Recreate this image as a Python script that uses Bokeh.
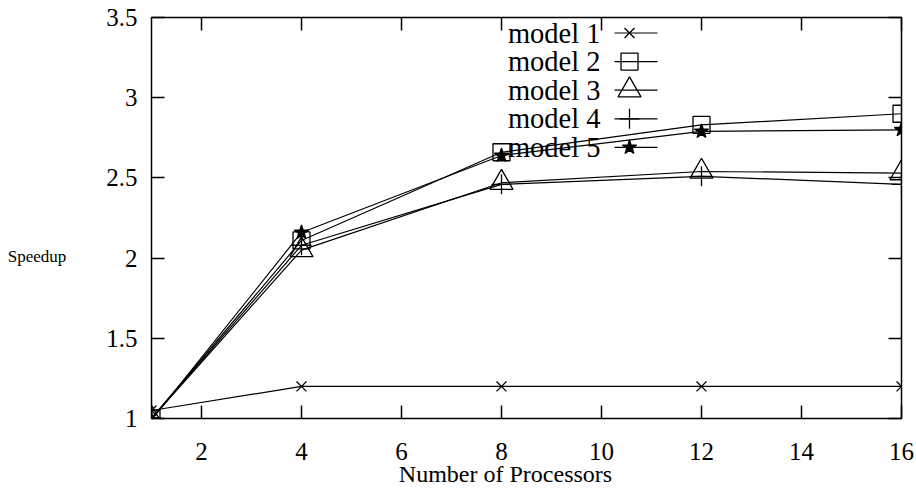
from bokeh.plotting import figure
from bokeh.models import Range1d, LinearAxis, FixedTicker, ColumnDataSource
from bokeh.core.properties import value
from bokeh.embed import file_html
from bokeh.resources import INLINE

# ---- data ----
processors = [1, 4, 8, 12, 16]
model1 = [1.05, 1.20, 1.20, 1.20, 1.20]
model2 = [1.00, 2.11, 2.66, 2.83, 2.90]
model3 = [1.00, 2.05, 2.47, 2.54, 2.53]
model4 = [1.00, 2.08, 2.46, 2.51, 2.46]
model5 = [0.99, 2.16, 2.64, 2.79, 2.80]
series_names = ["model 1", "model 2", "model 3", "model 4", "model 5"]
x_ticks = [2, 4, 6, 8, 10, 12, 14, 16]
y_ticks = [1, 1.5, 2, 2.5, 3, 3.5]
y_tick_labels = ["1", "1.5", "2", "2.5", "3", "3.5"]
x_title = "Number of Processors"
y_title = "Speedup"

# ---- styles ----
FONT = "Liberation Serif"
series_data = [model1, model2, model3, model4, model5]
markers = ["x", "square", "triangle", "cross", "star"]
msizes = [14, 17, 23, 20, 15]
mfills = [None, None, None, None, "black"]

FW, FH = 750, 401
p = figure(width=916, height=495, frame_width=FW, frame_height=FH,
           x_range=Range1d(1, 16), y_range=Range1d(1, 3.5),
           output_backend="svg", toolbar_location=None,
           min_border_left=151, min_border_right=15, min_border_top=17, min_border_bottom=77,
           background_fill_color="white", border_fill_color="white")
p.grid.visible = False
p.outline_line_color = "black"
p.outline_line_width = 1.5

yticker = FixedTicker(ticks=y_ticks)
xticker = FixedTicker(ticks=x_ticks)
overrides = {t: l for t, l in zip(y_ticks, y_tick_labels)}

def style_axis(ax, ticker):
    ax.ticker = ticker
    ax.axis_line_color = None
    ax.major_tick_in = 13
    ax.major_tick_out = 0
    ax.minor_tick_line_color = None
    ax.major_tick_line_color = "black"
    ax.major_tick_line_width = 1.5
    ax.major_label_text_font = FONT
    ax.major_label_text_font_size = "25px"
    ax.major_label_text_color = "black"

xa = p.xaxis[0]
style_axis(xa, xticker)
xa.major_label_standoff = 24
# non-breaking spaces shift the centred title left, as in the reference
xa.axis_label = x_title + "\u00a0" * 7
xa.axis_label_text_font = FONT
xa.axis_label_text_font_size = "24px"
xa.axis_label_text_font_style = "normal"
xa.axis_label_text_color = "black"
xa.axis_label_standoff = -2

ya = p.yaxis[0]
style_axis(ya, yticker)
ya.major_label_standoff = 14
ya.major_label_overrides = overrides
# leading blank lines move the horizontal title down to the level of "2"
ya.axis_label = "\n\n" + y_title
ya.axis_label_orientation = "horizontal"
ya.axis_label_text_font = FONT
ya.axis_label_text_font_size = "17px"
ya.axis_label_text_font_style = "normal"
ya.axis_label_text_color = "black"
ya.axis_label_text_line_height = 2.0
ya.axis_label_standoff = 37

right = LinearAxis()
style_axis(right, yticker)
right.major_label_standoff = 0
right.major_label_overrides = {t: "" for t in y_ticks}
p.add_layout(right, "right")
top = LinearAxis()
style_axis(top, xticker)
top.major_label_standoff = 0
top.major_label_overrides = {t: "" for t in x_ticks}
p.add_layout(top, "above")

# ---- series ----
for vals, mk, ms, mf in zip(series_data, markers, msizes, mfills):
    src = ColumnDataSource(dict(x=processors, y=vals))
    p.line("x", "y", source=src, line_color="black", line_width=1.2)
    p.scatter("x", "y", source=src, marker=mk, size=ms, line_color="black",
              line_width=1.3, fill_color=mf)

# ---- key (gnuplot style: text, then sample line with marker) ----
p.extra_x_ranges = {"key": Range1d(0, FW)}
p.extra_y_ranges = {"key": Range1d(0, FH)}
KEY_TEXT_X = 449
KEY_LINE_X0, KEY_LINE_X1 = 463, 506
KEY_MARK_X = 478
KEY_Y0, KEY_DY = 385.5, 28.6
rows_y = [KEY_Y0 - i * KEY_DY for i in range(len(series_names))]
p.text(x=[KEY_TEXT_X] * len(rows_y), y=rows_y, text=series_names,
       x_range_name="key", y_range_name="key",
       text_align="right", text_baseline="middle",
       text_font=value(FONT), text_font_size="28.5px", text_color="black")
p.segment(x0=[KEY_LINE_X0] * len(rows_y), x1=[KEY_LINE_X1] * len(rows_y),
          y0=rows_y, y1=rows_y, x_range_name="key", y_range_name="key",
          line_color="black", line_width=1.2)
for ry, mk, ms, mf in zip(rows_y, markers, msizes, mfills):
    p.scatter([KEY_MARK_X], [ry], marker=mk, size=ms, line_color="black",
              line_width=1.3, fill_color=mf, x_range_name="key", y_range_name="key")

open("out.html", "w").write(file_html(p, INLINE))
